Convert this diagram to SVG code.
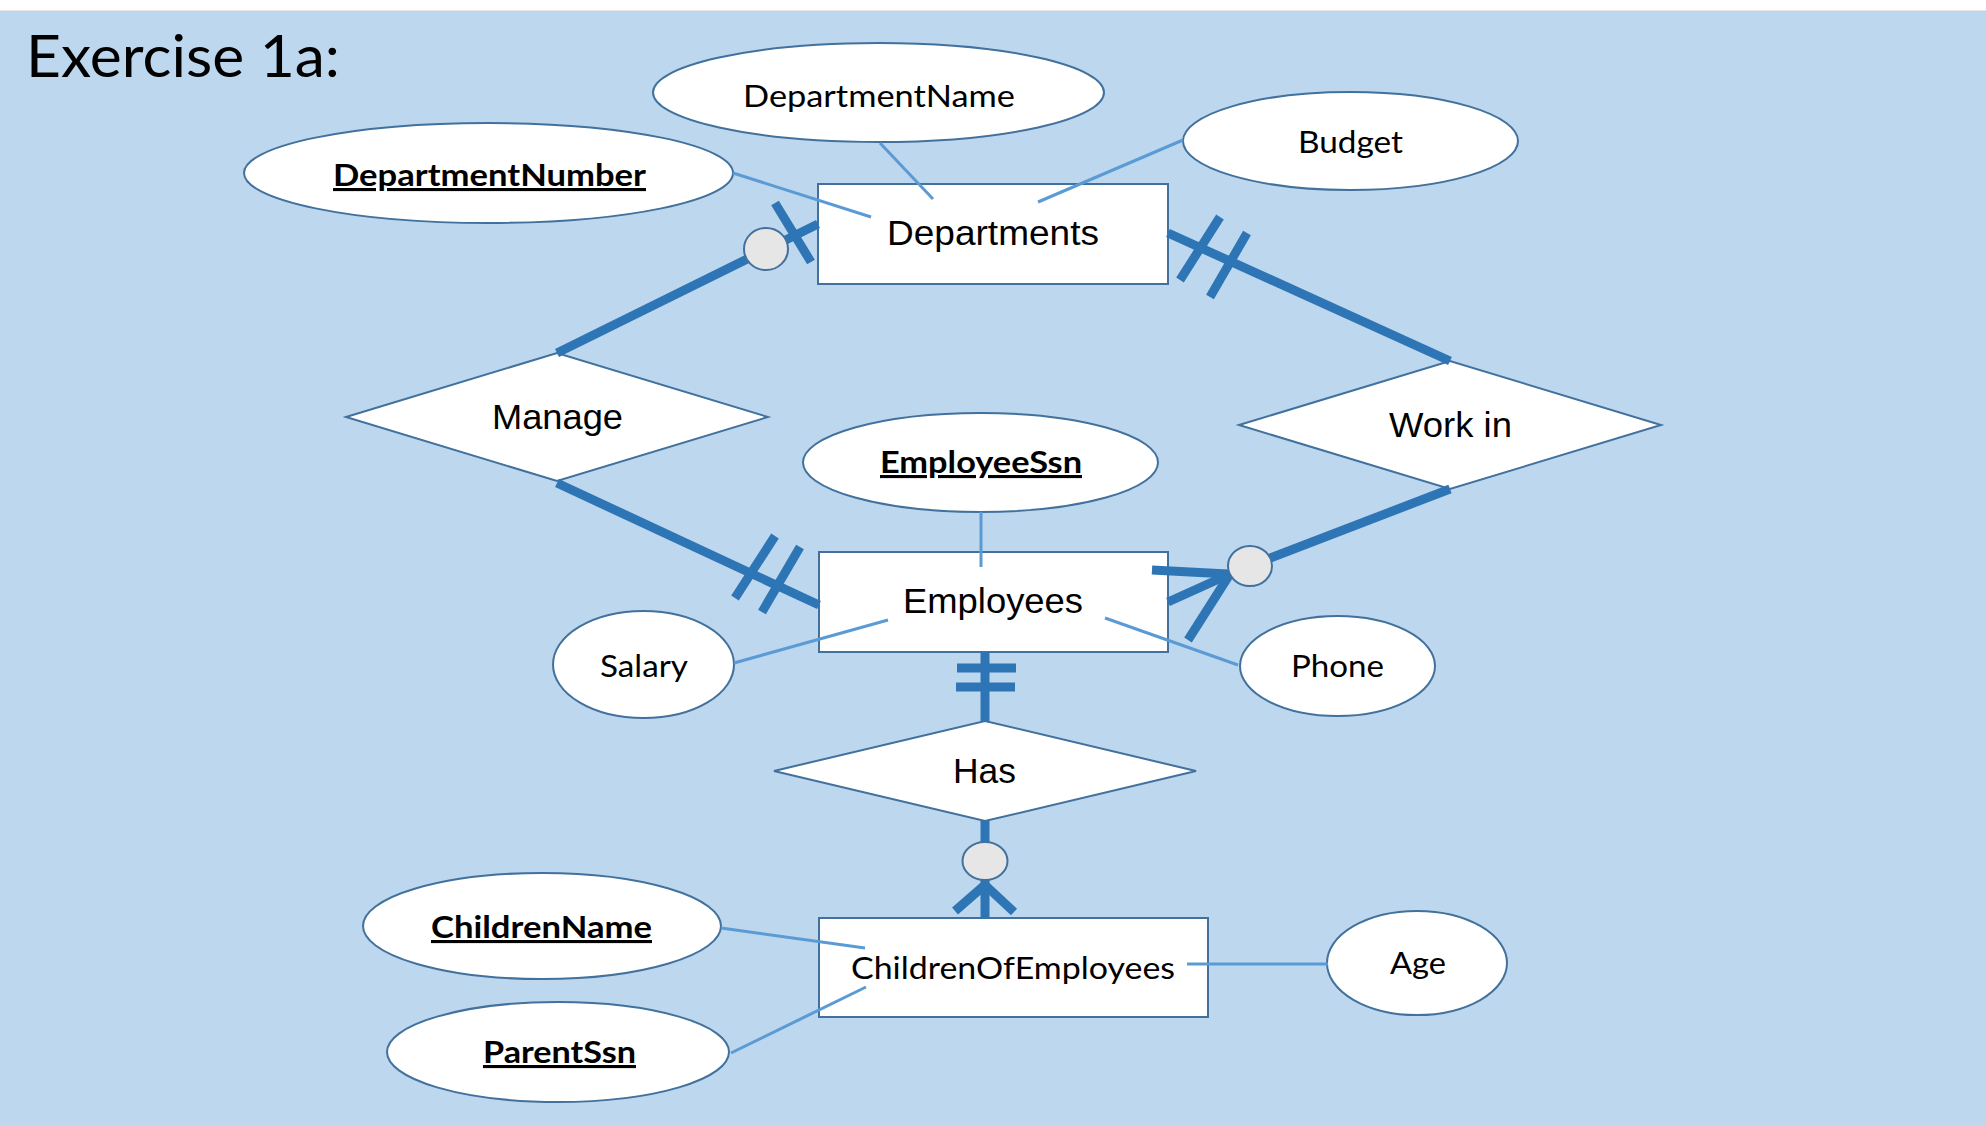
<svg xmlns="http://www.w3.org/2000/svg" width="1986" height="1125" viewBox="0 0 1986 1125">
<style>
.ent{fill:#FFFFFF;stroke:#41719C;stroke-width:2}
.att{fill:#FFFFFF;stroke:#41719C;stroke-width:2}
.rel{fill:#FFFFFF;stroke:#41719C;stroke-width:2}
.opt{fill:#E7E6E6;stroke:#41719C;stroke-width:2}
.thick{stroke:#2E75B6;stroke-width:9;fill:none;stroke-linecap:butt}
.thin{stroke:#5B9BD5;stroke-width:3;fill:none}
.ta{font-family:"Liberation Sans",Arial,sans-serif;font-size:35px;fill:#000000}
.tc{font-family:Lato,"Open Sans",sans-serif;font-size:31px;fill:#000000}
.tk{font-family:Lato,"Open Sans",sans-serif;font-size:31px;font-weight:bold;fill:#000000;text-decoration:underline}
</style>
<rect x="0" y="0" width="1986" height="1125" fill="#FFFFFF"/>
<rect x="0" y="11" width="1986" height="1114" fill="#BDD7EE"/>
<line x1="0" y1="11" x2="1986" y2="11" stroke="#D0D0D0" stroke-width="1"/>
<text x="26" y="77" font-family="Lato,'Open Sans',sans-serif" font-size="58.5" textLength="314" lengthAdjust="spacingAndGlyphs" fill="#000000">Exercise 1a:</text>

<g id="node-departmentname"><ellipse class="att" cx="878.5" cy="92.5" rx="225.5" ry="49.5"/><text class="tc" x="743" y="107" textLength="272" lengthAdjust="spacingAndGlyphs">DepartmentName</text></g>
<g id="node-departmentnumber"><ellipse class="att" cx="488.5" cy="173" rx="244.5" ry="50"/><text class="tk" x="333" y="186" textLength="313" lengthAdjust="spacingAndGlyphs">DepartmentNumber</text></g>
<g id="node-budget"><ellipse class="att" cx="1350.5" cy="141" rx="167.5" ry="49"/><text class="tc" x="1298" y="153" textLength="105" lengthAdjust="spacingAndGlyphs">Budget</text></g>
<g id="node-departments"><rect class="ent" x="818" y="184" width="350" height="100"/><text class="ta" x="887" y="245" textLength="212" lengthAdjust="spacingAndGlyphs">Departments</text></g>
<g id="node-manage"><polygon class="rel" points="346,417 557,353 768,417 557,481"/><text class="ta" x="492" y="429" textLength="131" lengthAdjust="spacingAndGlyphs">Manage</text></g>
<g id="node-workin"><polygon class="rel" points="1239,425 1450,361 1661,425 1450,489"/><text class="ta" x="1389" y="437" textLength="123" lengthAdjust="spacingAndGlyphs">Work in</text></g>
<g id="node-employeessn"><ellipse class="att" cx="980.5" cy="462.5" rx="177.5" ry="49.5"/><text class="tk" x="880" y="473" textLength="202" lengthAdjust="spacingAndGlyphs">EmployeeSsn</text></g>
<g id="node-employees"><rect class="ent" x="819" y="552" width="349" height="100"/><text class="ta" x="903" y="613" textLength="180" lengthAdjust="spacingAndGlyphs">Employees</text></g>
<g id="node-salary"><ellipse class="att" cx="643.5" cy="664.5" rx="90.5" ry="53.5"/><text class="tc" x="600" y="677" textLength="88" lengthAdjust="spacingAndGlyphs">Salary</text></g>
<g id="node-phone"><ellipse class="att" cx="1337.5" cy="666" rx="97.5" ry="50"/><text class="tc" x="1291" y="677" textLength="93" lengthAdjust="spacingAndGlyphs">Phone</text></g>
<g id="node-has"><polygon class="rel" points="774,771 985,721 1196,771 985,821"/><text class="ta" x="953" y="783" textLength="63" lengthAdjust="spacingAndGlyphs">Has</text></g>
<g id="node-childrenname"><ellipse class="att" cx="542" cy="926" rx="179" ry="53"/><text class="tk" x="431" y="938" textLength="221" lengthAdjust="spacingAndGlyphs">ChildrenName</text></g>
<g id="node-childrenofemployees"><rect class="ent" x="819" y="918" width="389" height="99"/><text class="tc" x="851" y="979" font-size="32" textLength="324" lengthAdjust="spacingAndGlyphs">ChildrenOfEmployees</text></g>
<g id="node-parentssn"><ellipse class="att" cx="558" cy="1052" rx="171" ry="50"/><text class="tk" x="483" y="1063" textLength="153" lengthAdjust="spacingAndGlyphs">ParentSsn</text></g>
<g id="node-age"><ellipse class="att" cx="1417" cy="963" rx="90" ry="52"/><text class="tc" x="1390" y="974" textLength="56" lengthAdjust="spacingAndGlyphs">Age</text></g>

<g id="connectors">
<line class="thin" x1="733" y1="173" x2="871" y2="217"/>
<line class="thin" x1="880" y1="143" x2="933" y2="199"/>
<line class="thin" x1="1183" y1="140" x2="1038" y2="202"/>
<line class="thin" x1="981" y1="512" x2="981" y2="567"/>
<line class="thin" x1="734" y1="663" x2="888" y2="620"/>
<line class="thin" x1="1105" y1="618" x2="1238" y2="665"/>
<line class="thin" x1="721" y1="928" x2="865" y2="948"/>
<line class="thin" x1="731" y1="1053" x2="866" y2="987"/>
<line class="thin" x1="1187" y1="964" x2="1328" y2="964" stroke-width="4"/>

<line class="thick" x1="557" y1="353" x2="818" y2="224"/>
<line class="thick" x1="775" y1="203" x2="811" y2="262"/>

<line class="thick" x1="557" y1="483" x2="819" y2="605"/>
<line class="thick" x1="775" y1="536" x2="735" y2="598"/>
<line class="thick" x1="800" y1="547" x2="762" y2="612"/>

<line class="thick" x1="1168" y1="233" x2="1450" y2="361"/>
<line class="thick" x1="1220" y1="217" x2="1180" y2="280"/>
<line class="thick" x1="1247" y1="233" x2="1210" y2="297"/>

<line class="thick" x1="1450" y1="489" x2="1260" y2="562"/>
<line class="thick" x1="1152" y1="570" x2="1228" y2="574"/>
<line class="thick" x1="1168" y1="602" x2="1230" y2="574"/>
<line class="thick" x1="1188" y1="640" x2="1230" y2="574"/>

<line class="thick" x1="985" y1="652" x2="985" y2="721"/>
<line class="thick" x1="957" y1="668" x2="1016" y2="668"/>
<line class="thick" x1="956" y1="687" x2="1015" y2="687"/>

<line class="thick" x1="985" y1="821" x2="985" y2="850"/>
<line class="thick" x1="985" y1="880" x2="985" y2="918"/>
<line class="thick" x1="986" y1="884" x2="955" y2="911"/>
<line class="thick" x1="984" y1="884" x2="1014" y2="912"/>

<ellipse class="opt" cx="766" cy="249" rx="22" ry="21"/>
<ellipse class="opt" cx="1250" cy="566" rx="22" ry="20"/>
<ellipse class="opt" cx="985" cy="861" rx="22.5" ry="19"/>
</g>
</svg>
